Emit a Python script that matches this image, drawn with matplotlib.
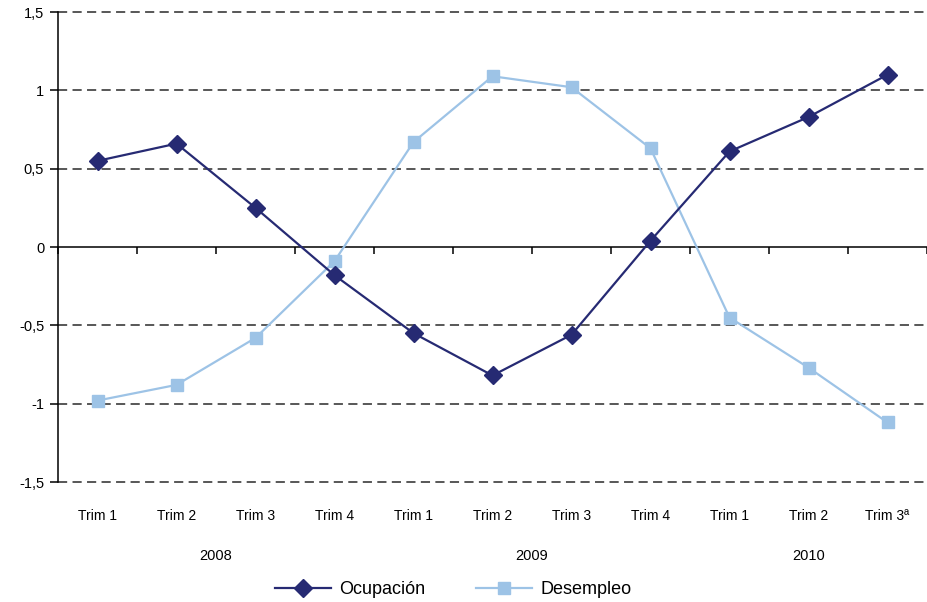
import matplotlib.pyplot as plt
import matplotlib.transforms as mtransforms
from matplotlib.lines import Line2D

plt.rcParams['font.family'] = ['Liberation Sans', 'DejaVu Sans']

# Data
quarters = ["Trim 1", "Trim 2", "Trim 3", "Trim 4",
            "Trim 1", "Trim 2", "Trim 3", "Trim 4",
            "Trim 1", "Trim 2", "Trim 3ª"]
years = ["2008", "2009", "2010"]
year_pos = [1.5, 5.5, 9.0]
ocupacion = [0.55, 0.66, 0.25, -0.18, -0.55, -0.82, -0.56, 0.04, 0.61, 0.83, 1.10]
desempleo = [-0.98, -0.88, -0.58, -0.09, 0.67, 1.09, 1.02, 0.63, -0.45, -0.77, -1.12]
yticks = [-1.5, -1, -0.5, 0, 0.5, 1, 1.5]
ytick_labels = ["-1,5", "-1", "-0,5", "0", "0,5", "1", "1,5"]

col_ocu = "#262a73"
col_des = "#9dc3e6"

fig = plt.figure(figsize=(9.27, 6.02), dpi=100)
ax = fig.add_axes([0.0626, 0.1993, 0.9374, 0.7807])

x = list(range(len(quarters)))

# dashed gridlines (not at zero)
for y in yticks:
    if y != 0:
        ax.axhline(y, color="#2a2a2a", lw=1.1, ls=(0, (6, 3.5)), zorder=1,
                   clip_on=False)

ax.plot(x, ocupacion, color=col_ocu, lw=1.6, marker="D", ms=9.5,
        markeredgecolor=col_ocu, zorder=4, label="Ocupación")
ax.plot(x, desempleo, color=col_des, lw=1.6, marker="s", ms=9,
        markeredgecolor=col_des, zorder=3, label="Desempleo")

ax.set_xlim(-0.5, 10.4)
ax.set_ylim(-1.5, 1.5)

ax.spines["top"].set_visible(False)
ax.spines["right"].set_visible(False)
ax.spines["bottom"].set_position(("data", 0))
ax.spines["bottom"].set_linewidth(1.1)
ax.spines["left"].set_linewidth(1.1)

ax.set_yticks(yticks)
ax.set_yticklabels(ytick_labels, fontsize=10.5)
ax.tick_params(axis="y", direction="out", length=6, width=1.1, pad=4)

ax.set_xticks([i - 0.5 for i in range(len(quarters) + 1)])
ax.set_xticklabels([])
ax.tick_params(axis="x", direction="out", length=5, width=1.1)

trans = mtransforms.blended_transform_factory(ax.transData, ax.transAxes)
for i, q in enumerate(quarters):
    ax.text(i, -0.072, q, transform=trans, ha="center", va="center", fontsize=10)
for yp, yr in zip(year_pos, years):
    ax.text(yp, -0.157, yr, transform=trans, ha="center", va="center", fontsize=10.5)

handles = [
    Line2D([], [], color=col_ocu, lw=1.6, marker="D", ms=9.5),
    Line2D([], [], color=col_des, lw=1.6, marker="s", ms=9),
]
fig.legend(handles, ["Ocupación", "Desempleo"], loc="center",
           bbox_to_anchor=(0.489, 0.02), ncol=2, frameon=False,
           fontsize=13, handlelength=3.1, handletextpad=0.45,
           columnspacing=2.8)

fig.savefig("out.png", dpi=100)
